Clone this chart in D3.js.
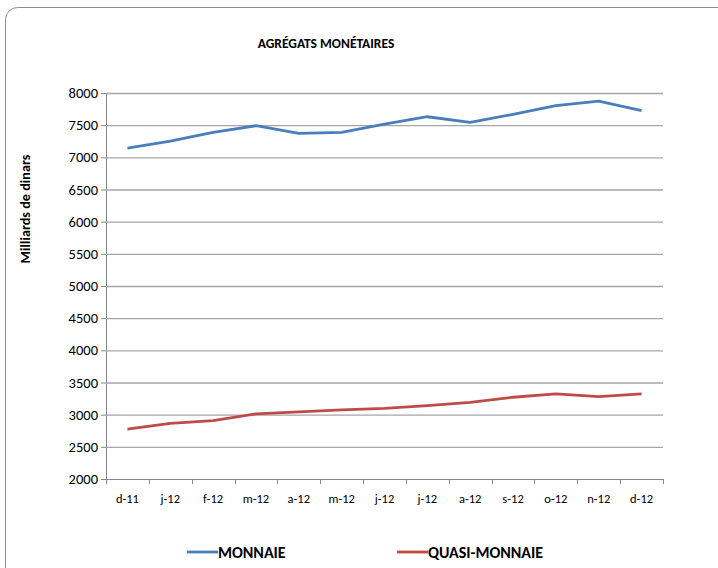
<!DOCTYPE html>
<html>
<head>
<meta charset="utf-8">
<script src="https://cdn.jsdelivr.net/npm/d3@7"></script>
<style>
  body { margin: 0; background: #fff; }
  svg text { font-family: Carlito, Calibri, "Liberation Sans Narrow", "Open Sans", sans-serif; fill: #000; }
</style>
</head>
<body>
<div id="graf"></div>
<script>
// Datos
const mois = ["d-11", "j-12", "f-12", "m-12", "a-12", "m-12 ", "j-12 ", "j-12  ", "a-12 ", "s-12", "o-12", "n-12", "d-12"]
const monnaie = [7143, 7252, 7388, 7491, 7372, 7388, 7517, 7631, 7543, 7668, 7803, 7875, 7725]
const quasiMonnaie = [2777, 2865, 2907, 3011, 3042, 3073, 3098, 3140, 3192, 3271, 3323, 3280, 3323]
const yTicks = [2000, 2500, 3000, 3500, 4000, 4500, 5000, 5500, 6000, 6500, 7000, 7500, 8000]
const series = [
  { nom: "MONNAIE", valeurs: monnaie, couleur: "#4a7ebb" },
  { nom: "QUASI-MONNAIE", valeurs: quasiMonnaie, couleur: "#be4b48" },
]

const draw = () => {
  const anchoTotal = 718
  const altoTotal = 568
  const margins = { top: 93, right: 55, bottom: 89, left: 106 }
  const ancho = anchoTotal - margins.left - margins.right
  const alto = altoTotal - margins.top - margins.bottom

  const svg = d3.select("#graf")
    .append("svg")
    .attr("width", anchoTotal)
    .attr("height", altoTotal)

  // Cadre
  svg.append("rect")
    .attr("x", 5.5).attr("y", 7.5)
    .attr("width", 730).attr("height", 580)
    .attr("rx", 12)
    .attr("fill", "#fff")
    .attr("stroke", "#8c8c8c")
    .attr("stroke-width", 1)

  // Escaladores
  const x = d3.scaleBand().domain(mois).range([0, ancho])
  const y = d3.scaleLinear().domain([2000, 8000]).range([alto, 0])

  const chart = svg.append("g")
    .attr("transform", `translate(${margins.left}, ${margins.top})`)

  // Grille + axe Y
  const yAxis = d3.axisLeft(y)
    .tickValues(yTicks)
    .tickFormat(d3.format("d"))
    .tickSize(5)
    .tickPadding(3)
  const yAxisGroup = chart.append("g").call(yAxis)
  yAxisGroup.select(".domain").attr("stroke", "#868686")
  yAxisGroup.selectAll(".tick line").attr("stroke", "#868686")
  yAxisGroup.selectAll(".tick text").style("font-size", "14.5px")

  chart.append("g")
    .selectAll("line")
    .data(yTicks.filter((d) => d > 2000))
    .join("line")
    .attr("x1", 0).attr("x2", ancho)
    .attr("y1", (d) => y(d) + 0.5).attr("y2", (d) => y(d) + 0.5)
    .attr("stroke", "#a6a6a6")
    .attr("stroke-width", 1.3)

  // Axe X
  const xAxisGroup = chart.append("g")
    .attr("transform", `translate(0, ${alto})`)
  xAxisGroup.append("line")
    .attr("x1", 0).attr("x2", ancho)
    .attr("y1", 0.5).attr("y2", 0.5)
    .attr("stroke", "#868686")
  xAxisGroup.selectAll("line.tk")
    .data(d3.range(mois.length + 1))
    .join("line")
    .classed("tk", true)
    .attr("x1", (i) => Math.round(i * x.step()) + 0.5)
    .attr("x2", (i) => Math.round(i * x.step()) + 0.5)
    .attr("y1", 0).attr("y2", 5)
    .attr("stroke", "#868686")
  xAxisGroup.selectAll("text")
    .data(mois)
    .join("text")
    .attr("x", (d) => x(d) + x.bandwidth() / 2)
    .attr("y", 24)
    .attr("text-anchor", "middle")
    .style("font-size", "12.5px")
    .text((d) => d.trim())

  // Lignes
  const line = d3.line()
    .x((d, i) => x(mois[i]) + x.bandwidth() / 2)
    .y((d) => y(d))

  chart.selectAll("path.serie")
    .data(series)
    .join("path")
    .classed("serie", true)
    .attr("fill", "none")
    .attr("stroke", (d) => d.couleur)
    .attr("stroke-width", 2.8)
    .attr("stroke-linejoin", "round")
    .attr("d", (d) => line(d.valeurs))

  // Titre
  svg.append("text")
    .attr("x", 326).attr("y", 47.5)
    .attr("text-anchor", "middle")
    .style("font-size", "13.5px")
    .style("font-weight", "bold")
    .text("AGRÉGATS MONÉTAIRES")

  svg.append("text")
    .attr("transform", `translate(30, 209) rotate(-90)`)
    .attr("text-anchor", "middle")
    .style("font-size", "14.2px")
    .style("font-weight", "bold")
    .text("Milliards de dinars")

  // Légende
  const legendX = [187, 397]
  const legend = svg.append("g")
    .selectAll("g")
    .data(series)
    .join("g")
    .attr("transform", (d, i) => `translate(${legendX[i]}, 552)`)
  legend.append("line")
    .attr("x1", 0).attr("x2", 31)
    .attr("stroke", (d) => d.couleur)
    .attr("stroke-width", 2.8)
  legend.append("text")
    .attr("x", 31).attr("y", 5.5)
    .style("font-size", "16px")
    .style("font-weight", "bold")
    .text((d) => d.nom)
}

draw()
</script>
</body>
</html>
